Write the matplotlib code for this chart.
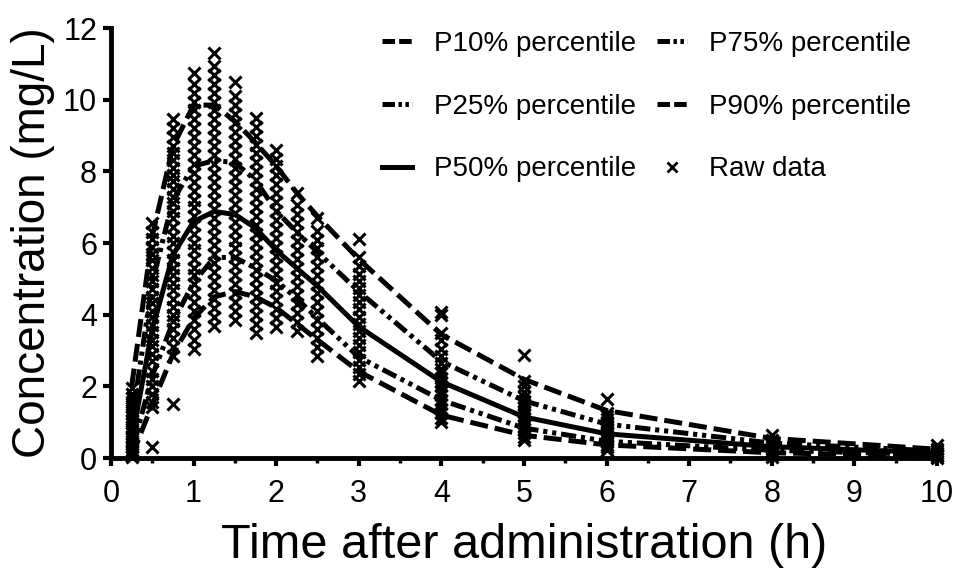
import numpy as np
import matplotlib
matplotlib.use('Agg')
import matplotlib.pyplot as plt
from matplotlib.lines import Line2D

# --- data ---
times = [0.25, 0.5, 0.75, 1, 1.25, 1.5, 1.75, 2, 2.25, 2.5, 3, 4, 5, 6, 8, 10]

p90 = [2.0, 6.2, 8.7, 9.85, 9.85, 9.4, 8.8, 8.15, 7.4, 6.75, 5.55, 3.45, 2.2, 1.33, 0.55, 0.25]
p75 = [1.0, 4.9, 7.2, 8.15, 8.3, 8.25, 7.75, 6.9, 6.3, 5.75, 4.65, 2.7, 1.6, 0.95, 0.42, 0.2]
p50 = [0.5, 3.6, 5.67, 6.6, 6.88, 6.8, 6.42, 5.8, 5.3, 4.8, 3.67, 2.13, 1.15, 0.68, 0.32, 0.15]
p25 = [0.2, 2.3, 3.8, 4.9, 5.6, 5.6, 5.3, 4.95, 4.45, 3.9, 2.82, 1.62, 0.84, 0.47, 0.22, 0.1]
p10 = [0.05, 1.5, 2.9, 3.9, 4.5, 4.65, 4.5, 4.2, 3.75, 3.3, 2.42, 1.2, 0.64, 0.37, 0.15, 0.06]

# raw observations, one list per sampling time
raw = {
    0.25: [0.02, 0.06, 0.11, 0.18, 0.24, 0.31, 0.39, 0.47, 0.55, 0.62, 0.71, 0.8,
           0.88, 0.97, 1.05, 1.16, 1.24, 1.33, 1.45, 1.56, 1.68, 1.79, 1.97],
    0.5: [0.32, 1.42, 1.56, 1.8, 2.02, 2.21, 2.44, 2.7, 2.91, 3.12, 3.3, 3.52, 3.71,
          3.93, 4.1, 4.32, 4.5, 4.71, 4.93, 5.1, 5.31, 5.52, 5.7, 5.9, 6.12, 6.3, 6.55],
    0.75: [1.52, 2.85, 3.1, 3.35, 3.6, 3.82, 4.0, 4.21, 4.45, 4.7, 4.9, 5.12, 5.3,
           5.52, 5.75, 6.0, 6.2, 6.45, 6.7, 6.9, 7.12, 7.3, 7.5, 7.72, 7.9, 8.1,
           8.32, 8.5, 8.7, 8.95, 9.2, 9.45],
    1: [3.05, 3.3, 3.6, 3.85, 4.1, 4.35, 4.6, 4.85, 5.1, 5.3, 5.55, 5.8, 6.0, 6.25,
        6.5, 6.75, 7.0, 7.2, 7.45, 7.7, 7.95, 8.2, 8.45, 8.7, 8.95, 9.2, 9.45,
        9.7, 9.95, 10.2, 10.45, 10.75],
    1.25: [3.7, 3.95, 4.2, 4.45, 4.7, 4.95, 5.2, 5.45, 5.7, 5.95, 6.2, 6.45, 6.7,
           6.95, 7.2, 7.45, 7.7, 7.95, 8.2, 8.45, 8.7, 8.95, 9.2, 9.45, 9.7, 9.95,
           10.2, 10.45, 10.7, 10.95, 11.3],
    1.5: [3.85, 4.1, 4.35, 4.6, 4.85, 5.1, 5.35, 5.6, 5.85, 6.1, 6.35, 6.6, 6.85,
          7.1, 7.35, 7.6, 7.85, 8.1, 8.35, 8.6, 8.85, 9.1, 9.35, 9.6, 9.85, 10.1, 10.5],
    1.75: [3.5, 3.75, 4.0, 4.25, 4.5, 4.75, 5.0, 5.25, 5.5, 5.75, 6.0, 6.25, 6.5,
           6.75, 7.0, 7.25, 7.5, 7.75, 8.0, 8.25, 8.5, 8.75, 9.0, 9.25, 9.5],
    2: [3.65, 3.9, 4.15, 4.4, 4.65, 4.9, 5.15, 5.4, 5.65, 5.9, 6.15, 6.4, 6.65, 6.9,
        7.15, 7.4, 7.65, 7.9, 8.15, 8.35, 8.6],
    2.25: [3.55, 3.8, 4.05, 4.3, 4.55, 4.8, 5.05, 5.3, 5.55, 5.8, 6.05, 6.3, 6.55,
           6.8, 7.05, 7.4],
    2.5: [2.85, 3.1, 3.35, 3.6, 3.85, 4.1, 4.35, 4.6, 4.85, 5.1, 5.35, 5.6, 5.85,
          6.1, 6.35, 6.7],
    3: [2.15, 2.35, 2.55, 2.75, 2.95, 3.15, 3.35, 3.55, 3.75, 3.95, 4.15, 4.35,
        4.55, 4.75, 4.95, 5.15, 5.35, 5.6, 6.12],
    4: [1.0, 1.12, 1.25, 1.38, 1.5, 1.62, 1.75, 1.88, 2.0, 2.12, 2.25, 2.38, 2.5,
        2.65, 2.85, 3.05, 3.3, 3.5, 4.0, 4.09],
    5: [0.5, 0.6, 0.7, 0.8, 0.9, 1.0, 1.1, 1.2, 1.3, 1.4, 1.5, 1.6, 1.72, 1.85,
        2.0, 2.16, 2.88],
    6: [0.22, 0.3, 0.38, 0.46, 0.54, 0.62, 0.7, 0.78, 0.86, 0.94, 1.02, 1.1,
        1.18, 1.26, 1.65],
    8: [0.02, 0.08, 0.14, 0.2, 0.26, 0.32, 0.38, 0.44, 0.5, 0.64],
    10: [0.0, 0.05, 0.1, 0.15, 0.2, 0.25, 0.36],
}

labels = ['P10% percentile', 'P25% percentile', 'P50% percentile',
          'P75% percentile', 'P90% percentile', 'Raw data']

plt.rcParams['font.family'] = 'Liberation Sans'
plt.rcParams['lines.scale_dashes'] = False

fig = plt.figure(figsize=(9.61, 5.72), dpi=100)
ax = fig.add_axes([0.1155, 0.199, 0.8595, 0.752])

lw = 3.6
long_dash = (13, 5)
dash_dots = (11, 3.5, 3, 3.5, 3, 3.5)

rx = [t for t, vals in raw.items() for _ in vals]
ry = [v for vals in raw.values() for v in vals]
ax.plot(rx, ry, 'x', color='black', ms=8.5, mew=2.2, clip_on=False, zorder=2)

ax.plot(times, p10, color='black', lw=lw, dashes=long_dash, zorder=3)
ax.plot(times, p25, color='black', lw=lw, dashes=dash_dots, zorder=3)
ax.plot(times, p50, color='black', lw=lw, zorder=3)
ax.plot(times, p75, color='black', lw=lw, dashes=dash_dots, zorder=3)
ax.plot(times, p90, color='black', lw=lw, dashes=long_dash, zorder=3)

ax.set_xlim(0, 10)
ax.set_ylim(0, 12)
ax.set_xticks(range(0, 11))
ax.set_xticks(np.arange(0.5, 10, 1), minor=True)
ax.set_yticks(range(0, 13, 2))

for s in ['top', 'right']:
    ax.spines[s].set_visible(False)
for s in ['left', 'bottom']:
    ax.spines[s].set_linewidth(3.5)
ax.tick_params(which='major', length=6, width=3, labelsize=22)
ax.tick_params(axis='x', which='major', pad=9)
ax.tick_params(axis='y', which='major', pad=4)
ax.tick_params(axis='x', which='minor', length=3.5, width=2.5)

ax.set_xlabel('Time after administration (h)', fontsize=35, labelpad=10)
ax.set_ylabel('Concentration (mg/L)', fontsize=33, labelpad=6)

# legend glyphs are shorter than the plotted patterns, as in the original
leg_dash = (9, 3)
leg_dd = (9, 2.5, 2.5, 2.5, 2.5, 2.5)
handles = [Line2D([], [], color='black', lw=lw, dashes=leg_dash),
           Line2D([], [], color='black', lw=lw, dashes=leg_dd),
           Line2D([], [], color='black', lw=lw),
           Line2D([], [], color='black', lw=lw, dashes=leg_dd),
           Line2D([], [], color='black', lw=lw, dashes=leg_dash),
           Line2D([], [], color='black', ls='none', marker='x', ms=7, mew=2)]
ax.legend(handles, labels, ncol=2, loc='upper left',
          bbox_to_anchor=(382 / 961, 1 - 31 / 572),
          bbox_transform=fig.transFigure, borderpad=0, borderaxespad=0,
          frameon=False, handlelength=1.08, handletextpad=0.8,
          columnspacing=0.75, labelspacing=1.32, fontsize=20)

fig.savefig('out.png', dpi=100)
